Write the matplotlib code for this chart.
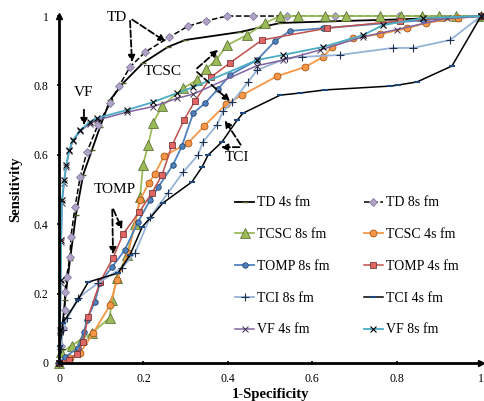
import numpy as np
import matplotlib.pyplot as plt

plt.rcParams['font.family'] = ['Liberation Serif', 'DejaVu Serif']

# ROC curves (x = 1-specificity, y = sensitivity)
td4_x = [0, 0.002, 0.007, 0.014, 0.026, 0.04, 0.057, 0.078, 0.097, 0.121, 0.152, 0.199, 0.258, 0.299, 0.429, 0.524, 0.65, 0.8, 1.0]
td4_y = [0, 0.05, 0.095, 0.18, 0.297, 0.427, 0.542, 0.614, 0.68, 0.758, 0.807, 0.865, 0.911, 0.931, 0.954, 0.98, 0.985, 0.99, 1.0]

td8_x = [0, 0.005, 0.01, 0.0135, 0.014, 0.018, 0.026, 0.028, 0.038, 0.05, 0.066, 0.092, 0.121, 0.142, 0.168, 0.204, 0.261, 0.306, 0.348, 0.398, 0.46, 0.54, 0.654, 0.806, 1.0]
td8_y = [0, 0.05, 0.1, 0.153, 0.203, 0.249, 0.306, 0.363, 0.45, 0.536, 0.608, 0.686, 0.749, 0.798, 0.853, 0.896, 0.939, 0.971, 0.986, 1.0, 1.0, 1.0, 1.0, 1.0, 1.0]

tcsc8_x = [0, 0.005, 0.03, 0.055, 0.077, 0.12, 0.125, 0.137, 0.16, 0.18, 0.192, 0.199, 0.211, 0.223, 0.244, 0.294, 0.327, 0.348, 0.372, 0.398, 0.445, 0.488, 0.524, 0.565, 0.63, 0.68, 0.76, 0.81, 0.86, 0.9, 0.94, 1.0]
tcsc8_y = [0, 0.03, 0.05, 0.07, 0.085, 0.13, 0.18, 0.245, 0.31, 0.4, 0.478, 0.571, 0.628, 0.692, 0.741, 0.792, 0.816, 0.847, 0.873, 0.916, 0.945, 0.98, 1.0, 1.0, 1.0, 1.0, 1.0, 1.0, 1.0, 1.0, 1.0, 1.0]

tcsc4_x = [0, 0.026, 0.05, 0.081, 0.121, 0.137, 0.164, 0.192, 0.213, 0.227, 0.249, 0.306, 0.344, 0.396, 0.434, 0.517, 0.583, 0.626, 0.647, 0.697, 0.761, 0.825, 0.87, 0.945, 1.0]
tcsc4_y = [0, 0.014, 0.029, 0.086, 0.167, 0.239, 0.317, 0.47, 0.519, 0.545, 0.597, 0.634, 0.683, 0.746, 0.772, 0.827, 0.853, 0.882, 0.911, 0.937, 0.948, 0.965, 0.98, 0.994, 1.0]

tomp8_x = [0, 0.014, 0.045, 0.059, 0.066, 0.085, 0.097, 0.126, 0.156, 0.187, 0.216, 0.235, 0.27, 0.291, 0.318, 0.346, 0.377, 0.405, 0.469, 0.512, 0.547, 0.626, 0.863, 1.0]
tomp8_y = [0, 0.017, 0.043, 0.089, 0.124, 0.176, 0.231, 0.277, 0.326, 0.406, 0.47, 0.507, 0.571, 0.625, 0.72, 0.749, 0.79, 0.83, 0.873, 0.928, 0.957, 0.965, 0.988, 1.0]

tomp4_x = [0, 0.024, 0.043, 0.057, 0.069, 0.097, 0.128, 0.152, 0.19, 0.22, 0.244, 0.268, 0.296, 0.322, 0.36, 0.405, 0.481, 0.635, 0.808, 1.0]
tomp4_y = [0, 0.009, 0.026, 0.061, 0.133, 0.233, 0.303, 0.372, 0.435, 0.49, 0.542, 0.628, 0.7, 0.755, 0.824, 0.865, 0.931, 0.965, 0.986, 1.0]

tci8_x = [0, 0.004, 0.009, 0.02, 0.045, 0.092, 0.149, 0.18, 0.216, 0.258, 0.294, 0.329, 0.341, 0.374, 0.389, 0.41, 0.448, 0.469, 0.54, 0.576, 0.666, 0.791, 0.839, 0.927, 1.0]
tci8_y = [0, 0.04, 0.095, 0.13, 0.187, 0.23, 0.274, 0.317, 0.421, 0.49, 0.55, 0.599, 0.637, 0.686, 0.726, 0.752, 0.81, 0.844, 0.879, 0.882, 0.888, 0.908, 0.908, 0.931, 1.0]

tci4_x = [0, 0.002, 0.009, 0.045, 0.069, 0.14, 0.168, 0.197, 0.216, 0.246, 0.315, 0.339, 0.353, 0.386, 0.422, 0.436, 0.524, 0.571, 0.63, 0.784, 0.803, 0.848, 0.931, 1.0]
tci4_y = [0, 0.05, 0.115, 0.182, 0.233, 0.259, 0.311, 0.392, 0.418, 0.461, 0.522, 0.565, 0.599, 0.637, 0.7, 0.72, 0.772, 0.778, 0.787, 0.798, 0.801, 0.81, 0.856, 1.0]

vf4_x = [0, 0.002, 0.004, 0.005, 0.007, 0.012, 0.017, 0.024, 0.033, 0.05, 0.073, 0.09, 0.161, 0.223, 0.28, 0.318, 0.469, 0.531, 0.618, 0.72, 0.8, 0.92, 1.0]
vf4_y = [0, 0.09, 0.23, 0.35, 0.46, 0.52, 0.565, 0.61, 0.64, 0.668, 0.69, 0.7, 0.723, 0.739, 0.763, 0.775, 0.857, 0.873, 0.902, 0.94, 0.961, 0.994, 1.0]

vf8_x = [0, 0.002, 0.004, 0.005, 0.007, 0.012, 0.017, 0.024, 0.033, 0.05, 0.073, 0.09, 0.161, 0.223, 0.28, 0.318, 0.469, 0.531, 0.626, 0.72, 0.768, 0.863, 1.0]
vf8_y = [0, 0.095, 0.24, 0.354, 0.47, 0.527, 0.571, 0.614, 0.643, 0.671, 0.695, 0.706, 0.729, 0.752, 0.778, 0.795, 0.873, 0.888, 0.911, 0.945, 0.974, 0.994, 1.0]

ticks = [0, 0.2, 0.4, 0.6, 0.8, 1.0]
tick_labels = ['0', '0.2', '0.4', '0.6', '0.8', '1']

fig = plt.figure(figsize=(4.84, 4.01), dpi=100)
ax = fig.add_axes([0.122, 0.095, 0.872, 0.865])

lines = {}
lines['TD 4s fm'] = ax.plot(td4_x, td4_y, '-', color='black', lw=1.3, marker='_', ms=5, mec='#4F6228', label='TD 4s fm')[0]
lines['TD 8s fm'] = ax.plot(td8_x, td8_y, '--', color='black', lw=1.1, marker='D', ms=4.5, mfc='#B3A2C7', mec='#7F7F9F', mew=0.6, label='TD 8s fm')[0]
lines['TCSC 8s fm'] = ax.plot(tcsc8_x, tcsc8_y, '-', color='#9BBB59', lw=1.3, marker='^', ms=6.5, mfc='#9BBB59', mec='#4F6228', mew=0.5, label='TCSC 8s fm')[0]
lines['TCSC 4s fm'] = ax.plot(tcsc4_x, tcsc4_y, '-', color='#F79646', lw=1.3, marker='o', ms=5, mfc='#F79646', mec='#984807', mew=0.5, label='TCSC 4s fm')[0]
lines['TOMP 8s fm'] = ax.plot(tomp8_x, tomp8_y, '-', color='#4F81BD', lw=1.3, marker='o', ms=4, mfc='#4F81BD', mec='#17375E', mew=0.5, label='TOMP 8s fm')[0]
lines['TOMP 4s fm'] = ax.plot(tomp4_x, tomp4_y, '-', color='#C0504D', lw=1.1, marker='s', ms=5, mfc='#E06666', mec='#632523', mew=0.5, label='TOMP 4s fm')[0]
lines['TCI 8s fm'] = ax.plot(tci8_x, tci8_y, '-', color='#95B3D7', lw=1.3, marker='+', ms=6, mec='#1F2F4F', mew=0.8, label='TCI 8s fm')[0]
lines['TCI 4s fm'] = ax.plot(tci4_x, tci4_y, '-', color='black', lw=1.1, marker='_', ms=4, mec='#1F497D', mew=1.5, label='TCI 4s fm')[0]
lines['VF 4s fm'] = ax.plot(vf4_x, vf4_y, '-', color='#8064A2', lw=1.1, marker='x', ms=4, mec='#3F3151', mew=0.7, label='VF 4s fm')[0]
lines['VF 8s fm'] = ax.plot(vf8_x, vf8_y, '-', color='#4BACC6', lw=1.3, marker='x', ms=4, mec='black', mew=0.8, label='VF 8s fm')[0]
for ln in lines.values():
    ln.set_clip_on(False)

ax.set_xlim(0, 1)
ax.set_ylim(0, 1)
ax.set_xticks(ticks)
ax.set_xticklabels(tick_labels)
ax.set_yticks(ticks)
ax.set_yticklabels(tick_labels)
ax.tick_params(labelsize=8.5, length=3, width=1.2, direction='inout', pad=6)
for s in ['top', 'right']:
    ax.spines[s].set_visible(False)
for s in ['left', 'bottom']:
    ax.spines[s].set_linewidth(2)
ax.plot(1, 0, '>k', ms=5, transform=ax.transAxes, clip_on=False)
ax.plot(0, 1, '^k', ms=5, transform=ax.transAxes, clip_on=False)

ax.set_xlabel('1-Specificity', fontsize=10.5, fontweight='bold', labelpad=2)
ax.set_ylabel('Sensitivity', fontsize=10.5, fontweight='bold', labelpad=8)

# dashed call-out arrows
arrow = dict(arrowstyle='-|>', linestyle='--', color='black', lw=1.3, mutation_scale=10)
callouts = [
    ((0.168, 0.994), (0.173, 0.859)),
    ((0.168, 0.994), (0.258, 0.922)),
    ((0.059, 0.738), (0.059, 0.677)),
    ((0.322, 0.844), (0.382, 0.908)),
    ((0.322, 0.844), (0.41, 0.749)),
    ((0.126, 0.45), (0.128, 0.305)),
    ((0.126, 0.45), (0.152, 0.378)),
    ((0.434, 0.622), (0.377, 0.622)),
    ((0.434, 0.622), (0.389, 0.706)),
]
for start, end in callouts:
    ax.annotate('', xy=end, xytext=start, arrowprops=arrow)

ax.text(0.137, 0.997, 'TD', fontsize=11, ha='center', va='center')
ax.text(0.059, 0.781, 'VF', fontsize=11, ha='center', va='center')
ax.text(0.246, 0.839, 'TCSC', fontsize=11, ha='center', va='center')
ax.text(0.133, 0.499, 'TOMP', fontsize=11, ha='center', va='center')
ax.text(0.422, 0.591, 'TCI', fontsize=11, ha='center', va='center')

order = ['TD 4s fm', 'TCSC 8s fm', 'TOMP 8s fm', 'TCI 8s fm', 'VF 4s fm',
         'TD 8s fm', 'TCSC 4s fm', 'TOMP 4s fm', 'TCI 4s fm', 'VF 8s fm']
ax.legend([lines[k] for k in order], order, ncol=2, frameon=False, fontsize=10,
          loc='upper left', bbox_to_anchor=(0.4, 0.50), labelspacing=1.35,
          handlelength=1.4, handletextpad=0.2, columnspacing=2.45, borderpad=0)

fig.savefig('out.png', dpi=100)
